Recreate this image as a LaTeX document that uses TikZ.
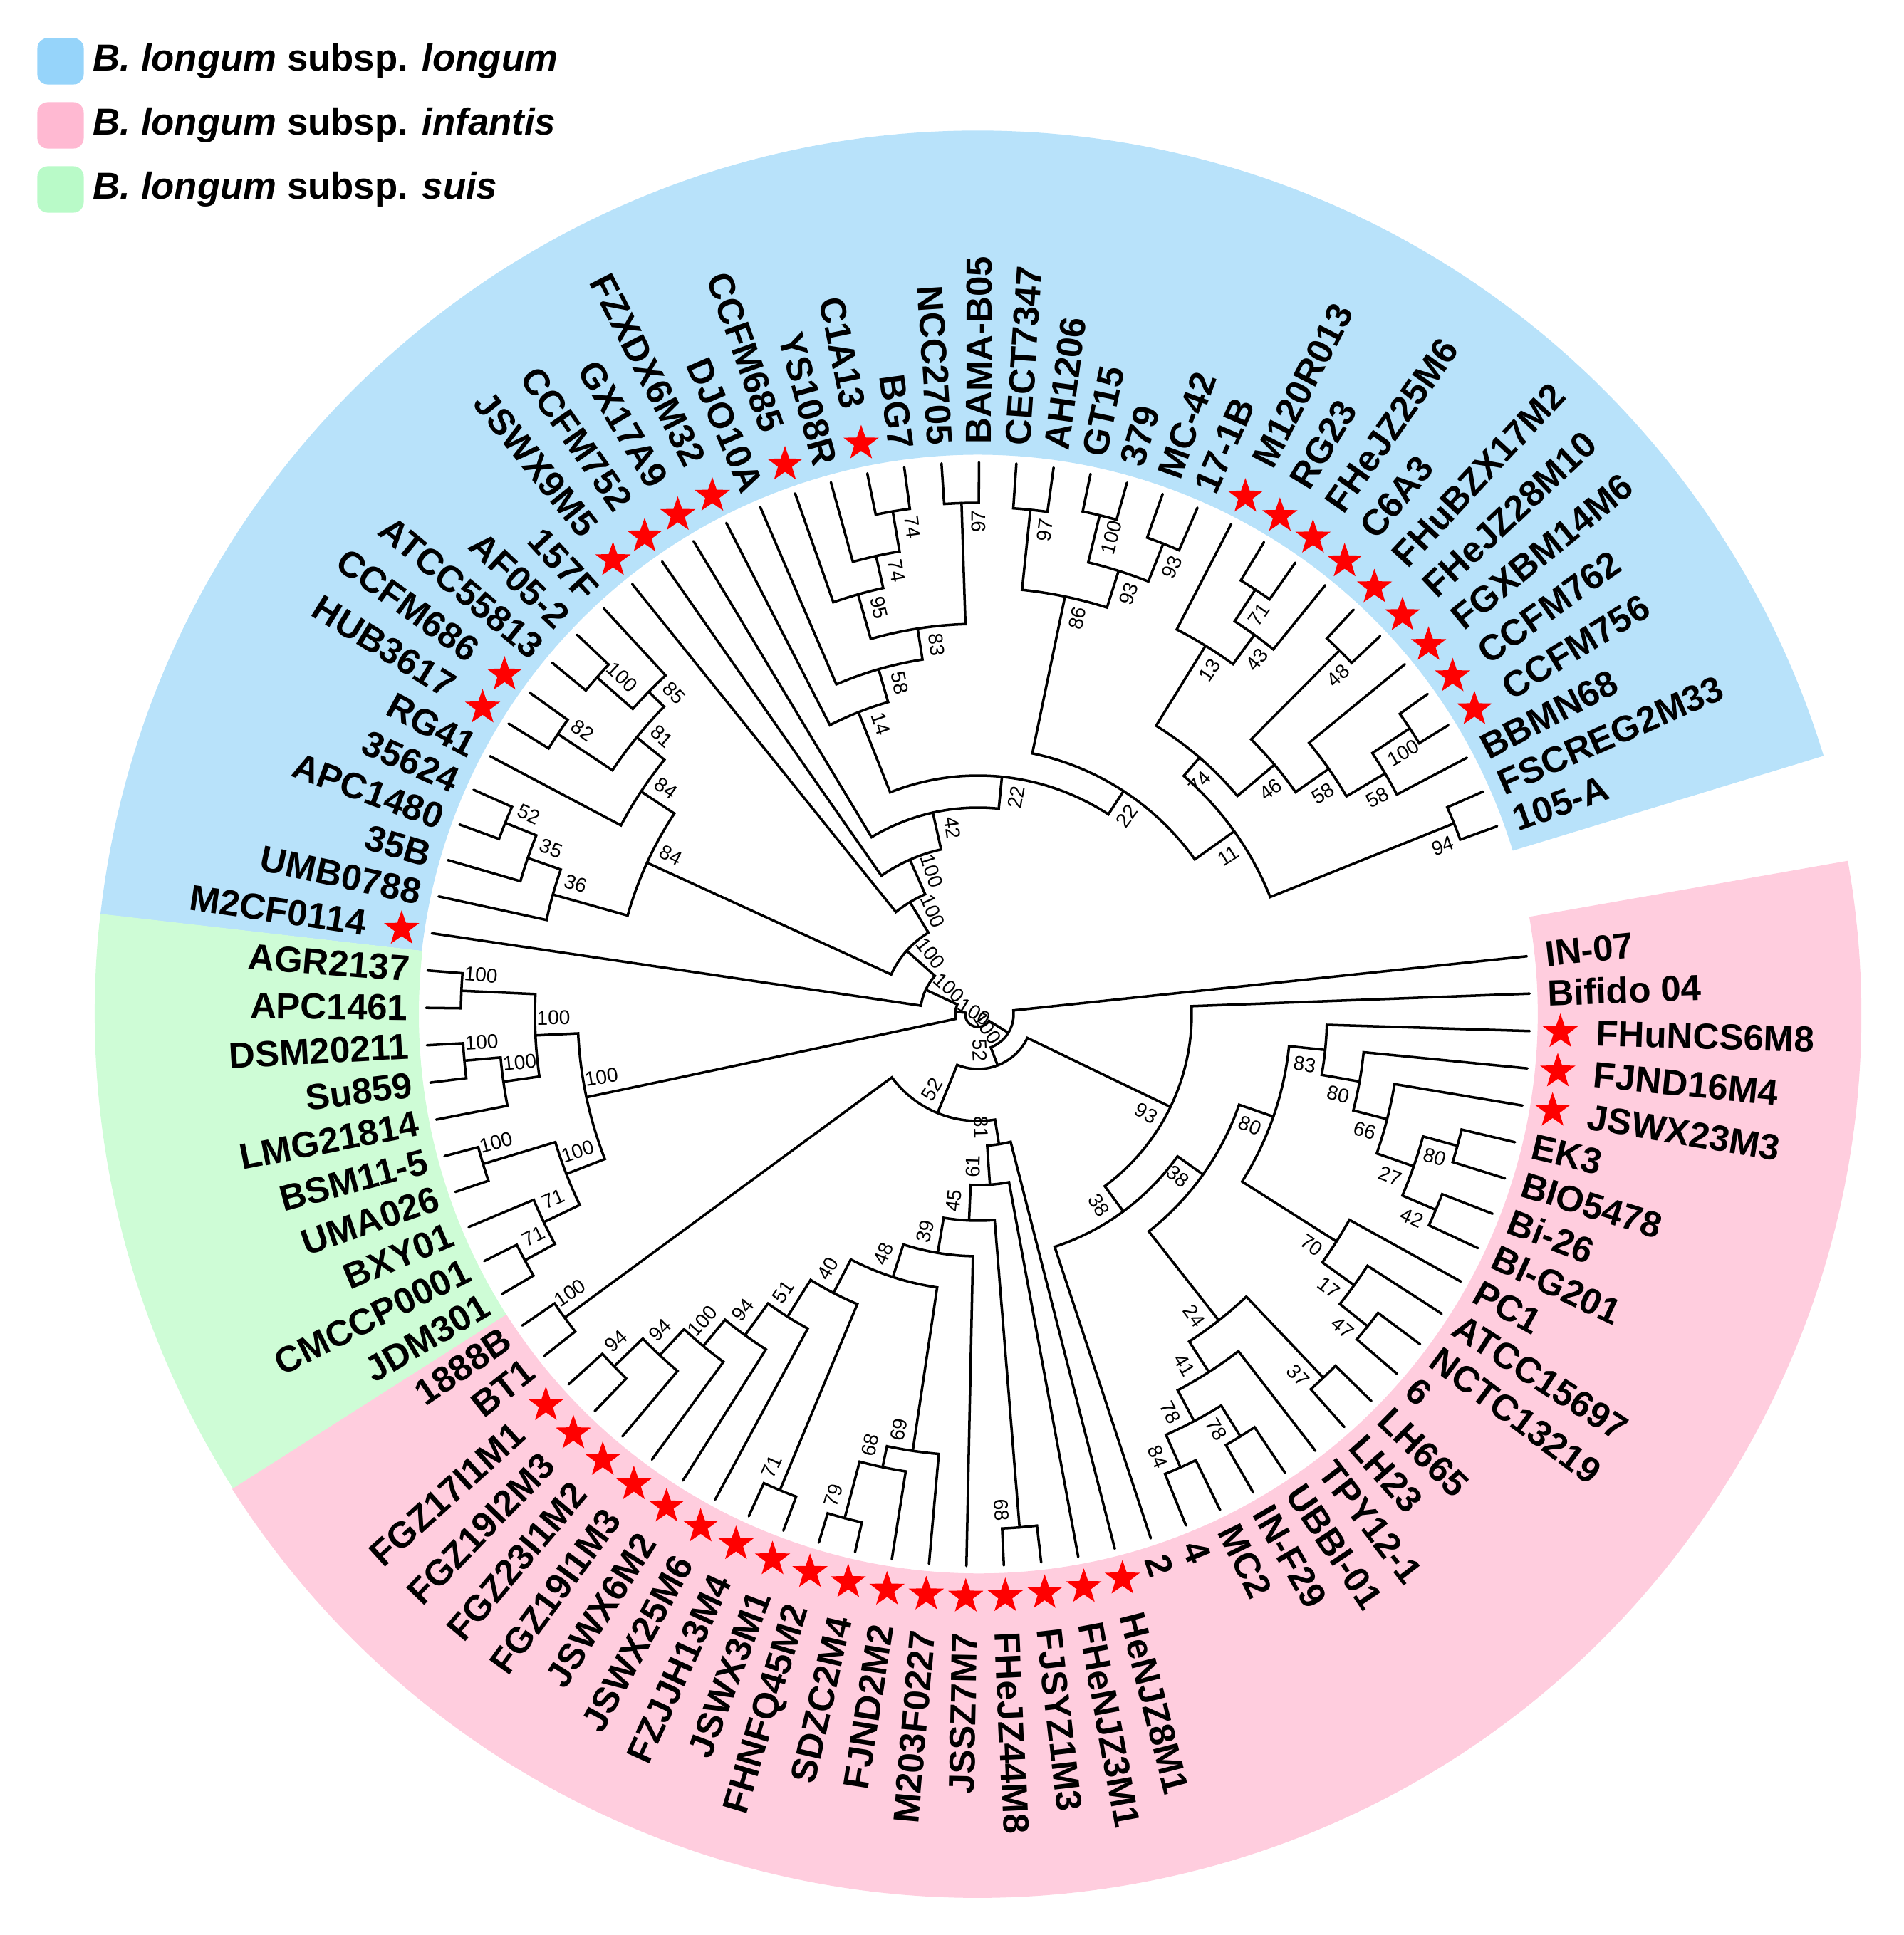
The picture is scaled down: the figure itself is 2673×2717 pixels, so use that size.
\documentclass[tikz,border=0pt]{standalone}
\usepackage{fontspec}
\setmainfont{Liberation Sans}
\usetikzlibrary{shapes.geometric}
\definecolor{cblue}{RGB}{184,226,250}
\definecolor{cpink}{RGB}{255,205,222}
\definecolor{cgreen}{RGB}{206,252,214}
\definecolor{lblue}{RGB}{150,212,250}
\definecolor{lpink}{RGB}{255,185,210}
\definecolor{lgreen}{RGB}{185,250,200}
\tikzset{
 br/.style={line width=1pt,black,line cap=round},
 lab/.style={font=\fontsize{14.5}{15}\selectfont\bfseries,inner sep=0pt},
 sup/.style={font=\fontsize{8}{9}\selectfont,inner sep=0pt},
 stark/.style={star,star points=5,star point ratio=2.5,fill=red,draw=none,minimum size=0.52cm,inner sep=0pt},
 leg/.style={rounded corners=4pt,minimum size=0.65cm,inner sep=0pt},
 legt/.style={font=\fontsize{15}{16}\selectfont\bfseries,anchor=west,inner sep=0pt}
}
\newcommand\tjoin[5]{%
 \edef\ca{\csname A@#3\endcsname}\edef\cb{\csname A@#4\endcsname}%
 \edef\ra{\csname R@#3\endcsname}\edef\rb{\csname R@#4\endcsname}%
 \draw[br] (\ca:\ra) -- (\ca:#2) arc[start angle=\ca,end angle=\cb,radius={#2*0.01cm}] -- (\cb:\rb);%
 \pgfmathsetmacro\tm{(\ca+\cb)/2}%
 \expandafter\xdef\csname A@#1\endcsname{\tm}%
 \expandafter\xdef\csname R@#1\endcsname{#2}%
 \pgfmathsetmacro\lr{#2-26}%
 \pgfmathsetmacro\la{\tm-min(1400/#2,25)}%
 \pgfmathsetmacro\lrot{cos(\la)>=0 ? \la : \la-180}%
 \node[sup,rotate=\lrot] (s#1) at (\la:\lr) {#5};%
}
\begin{document}
\begin{tikzpicture}[x=0.01cm,y=0.01cm]
\useasboundingbox (-1373,-1293) rectangle (1300,1424);
% bands
\fill[cblue] (17:785) arc[start angle=17,end angle=173.5,radius=7.85cm] -- (173.5:1240) arc[start angle=173.5,end angle=17,radius=12.4cm] -- cycle;
\fill[cgreen] (173.5:785) arc[start angle=173.5,end angle=212.5,radius=7.85cm] -- (212.5:1240) arc[start angle=212.5,end angle=173.5,radius=12.4cm] -- cycle;
\fill[cpink] (212.5:785) arc[start angle=212.5,end angle=370,radius=7.85cm] -- (370:1240) arc[start angle=370,end angle=212.5,radius=12.4cm] -- cycle;
% legend
\node[leg,fill=lblue] (k1) at (-1288,1338) {};
\node[leg,fill=lpink] (k2) at (-1288,1248) {};
\node[leg,fill=lgreen] (k3) at (-1288,1158) {};
\node[legt] (t1) at (-1243,1338) {\textit{B. longum} subsp. \textit{longum}};
\node[legt] (t2) at (-1243,1248) {\textit{B. longum} subsp. \textit{infantis}};
\node[legt] (t3) at (-1243,1158) {\textit{B. longum} subsp. \textit{suis}};
% leaves
\foreach \i/\t/\s in {0/105-A/0,1/FSCREG2M33/0,2/BBMN68/0,3/CCFM756/1,4/CCFM762/1,5/FGXBM14M6/1,6/FHeJZ28M10/1,7/FHuBZX17M2/1,8/C6A3/1,9/FHeJZ25M6/1,10/RG23/1,11/M120R013/1,12/17-1B/0,13/MC-42/0,14/379/0,15/GT15/0,16/AH1206/0,17/CECT7347/0,18/BAMA-B05/0,19/NCC2705/0,20/BG7/0,21/C1A13/1,22/YS108R/0,23/CCFM685/1,24/DJO10A/0,25/FZXDX6M32/1,26/GX17A9/1,27/CCFM752/1,28/JSWX9M5/1,29/157F/0,30/AF05-2/0,31/ATCC55813/0,32/CCFM686/1,33/HUB3617/1,34/RG41/0,35/35624/0,36/APC1480/0,37/35B/0,38/UMB0788/0,39/M2CF0114/1,40/AGR2137/0,41/APC1461/0,42/DSM20211/0,43/Su859/0,44/LMG21814/0,45/BSM11-5/0,46/UMA026/0,47/BXY01/0,48/CMCCP0001/0,49/JDM301/0,50/1888B/0,51/BT1/0,52/FGZ17I1M1/1,53/FGZ19I2M3/1,54/FGZ23I1M2/1,55/FGZ19I1M3/1,56/JSWX6M2/1,57/JSWX25M6/1,58/FZJJH13M4/1,59/JSWX3M1/1,60/FHNFQ45M2/1,61/SDZC2M4/1,62/FJND2M2/1,63/M203F0227/1,64/JSSZ7M7/1,65/FHeJZ44M8/1,66/FJSYZ1M3/1,67/FHeNJZ3M1/1,68/HeNJZ8M1/1,69/2/0,70/4/0,71/MC2/0,72/IN-F29/0,73/UBBI-01/0,74/TPY12-1/0,75/LH23/0,76/LH665/0,77/6/0,78/NCTC13219/0,79/ATCC15697/0,80/PC1/0,81/BI-G201/0,82/Bi-26/0,83/BIO5478/0,84/EK3/0,85/JSWX23M3/1,86/FJND16M4/1,87/FHuNCS6M8/1,88/Bifido 04/0,89/IN-07/0}{
 \pgfmathsetmacro\ang{19.9+3.889*\i}
 \expandafter\xdef\csname A@l\i\endcsname{\ang}
 \expandafter\xdef\csname R@l\i\endcsname{775}
 \pgfmathsetmacro\rr{\s==1 ? 868 : 800}
 \pgfmathtruncatemacro\side{cos(\ang)>=0 ? 1 : 0}
 \ifnum\side=1
  \node[lab,anchor=west,rotate=\ang] (n\i) at (\ang:\rr) {\t};
 \else
  \node[lab,anchor=east,rotate=\ang-180] (n\i) at (\ang:\rr) {\t};
 \fi
 \ifnum\s=1 \node[stark] (st\i) at (\ang:818) {}; \fi
}
% blue
\tjoin{b97}{718}{l19}{l18}{97}
\tjoin{b74a}{716}{l21}{l20}{74}
\tjoin{b74b}{659}{l22}{b74a}{74}
\tjoin{b95}{613}{l23}{b74b}{95}
\tjoin{b83}{548}{b95}{b97}{83}
\tjoin{b58}{504}{l24}{b83}{58}
\tjoin{b14}{456}{l25}{b58}{14}
\tjoin{b100s}{721}{l15}{l14}{100}
\tjoin{b93a}{710}{l13}{l12}{93}
\tjoin{b93b}{653}{b100s}{b93a}{93}
\tjoin{b97r}{712}{l17}{l16}{97}
\tjoin{b86}{599}{b97r}{b93b}{86}
\tjoin{b71}{712}{l10}{l9}{71}
\tjoin{b43}{659}{b71}{l8}{43}
\tjoin{b13}{608}{l11}{b43}{13}
\tjoin{b48}{720}{l7}{l6}{48}
\tjoin{b100r}{727}{l4}{l3}{100}
\tjoin{b58a}{664}{b100r}{l2}{58}
\tjoin{b58b}{601}{l5}{b58a}{58}
\tjoin{b46}{544}{b48}{b58b}{46}
\tjoin{b74r}{476}{b13}{b46}{74}
\tjoin{b94}{720}{l1}{l0}{94}
\tjoin{b11}{442}{b74r}{b94}{11}
\tjoin{b22a}{374}{b86}{b11}{22}
\tjoin{b22}{335}{b14}{b22a}{22}
\tjoin{b42}{290}{l26}{b22}{42}
\tjoin{b100a}{237}{l27}{b42}{100}
\tjoin{b100b}{184}{l28}{b100a}{100}
\tjoin{lb100}{714}{l30}{l31}{100}
\tjoin{lb85}{647}{l29}{lb100}{85}
\tjoin{lb82}{709}{l32}{l33}{82}
\tjoin{lb81}{617}{lb85}{lb82}{81}
\tjoin{lb84a}{567}{lb81}{l34}{84}
\tjoin{lb52}{716}{l35}{l36}{52}
\tjoin{lb35}{669}{lb52}{l37}{35}
\tjoin{lb36}{620}{lb35}{l38}{36}
\tjoin{lb84b}{511}{lb84a}{lb36}{84}
\tjoin{b100c}{134}{b100b}{lb84b}{100}
\tjoin{b100d}{81}{b100c}{l39}{100}
% green
\tjoin{g100a}{726}{l40}{l41}{100}
\tjoin{g100b}{724}{l42}{l43}{100}
\tjoin{g100c}{673}{g100b}{l44}{100}
\tjoin{g100d}{622}{g100a}{g100c}{100}
\tjoin{g100e}{726}{l45}{l46}{100}
\tjoin{g71a}{724}{l48}{l49}{71}
\tjoin{g71b}{676}{l47}{g71a}{71}
\tjoin{g100f}{620}{g100e}{g71b}{100}
\tjoin{g100g}{562}{g100d}{g100f}{100}
\tjoin{bg}{32}{b100d}{g100g}{100}
% pink
\tjoin{p100}{720}{l50}{l51}{100}
\tjoin{q94a}{711}{l52}{l53}{94}
\tjoin{q94b}{655}{q94a}{l54}{94}
\tjoin{q100}{605}{q94b}{l55}{100}
\tjoin{q94c}{557}{q100}{l56}{94}
\tjoin{q51}{502}{q94c}{l57}{51}
\tjoin{q71}{724}{l58}{l59}{71}
\tjoin{q40}{441}{q51}{q71}{40}
\tjoin{q79}{732}{l60}{l61}{79}
\tjoin{q68}{650}{q79}{l62}{68}
\tjoin{q69}{620}{q68}{l63}{69}
\tjoin{q48}{388}{q40}{q69}{48}
\tjoin{q39}{340}{q48}{l64}{39}
\tjoin{q68b}{723}{l65}{l66}{68}
\tjoin{q45}{290}{q39}{q68b}{45}
\tjoin{q61}{240}{q45}{l67}{61}
\tjoin{q81}{185}{q61}{l68}{81}
\tjoin{p52a}{150}{p100}{q81}{52}
\tjoin{r84}{697}{l70}{l71}{84}
\tjoin{r78b}{698}{l72}{l73}{78}
\tjoin{r78a}{647}{r84}{r78b}{78}
\tjoin{r41}{598}{r78a}{l74}{41}
\tjoin{r37}{704}{l75}{l76}{37}
\tjoin{r24}{547}{r41}{r37}{24}
\tjoin{r47}{701}{l77}{l78}{47}
\tjoin{r17}{651}{r47}{l79}{17}
\tjoin{r70}{596}{r17}{l80}{70}
\tjoin{r42}{699}{l81}{l82}{42}
\tjoin{r80b}{698}{l83}{l84}{80}
\tjoin{r27}{648}{r42}{r80b}{27}
\tjoin{r66}{593}{r27}{l85}{66}
\tjoin{r80a}{544}{r66}{l86}{80}
\tjoin{r83}{490}{r80a}{l87}{83}
\tjoin{r80c}{439}{r70}{r83}{80}
\tjoin{r38a}{388}{r24}{r80c}{38}
\tjoin{r38b}{344}{l69}{r38a}{38}
\tjoin{r93}{300}{r38b}{l88}{93}
\tjoin{p52b}{77}{p52a}{r93}{52}
\tjoin{pk}{50}{p52b}{l89}{100}
\tjoin{root}{18}{bg}{pk}{}
\end{tikzpicture}
\end{document}
